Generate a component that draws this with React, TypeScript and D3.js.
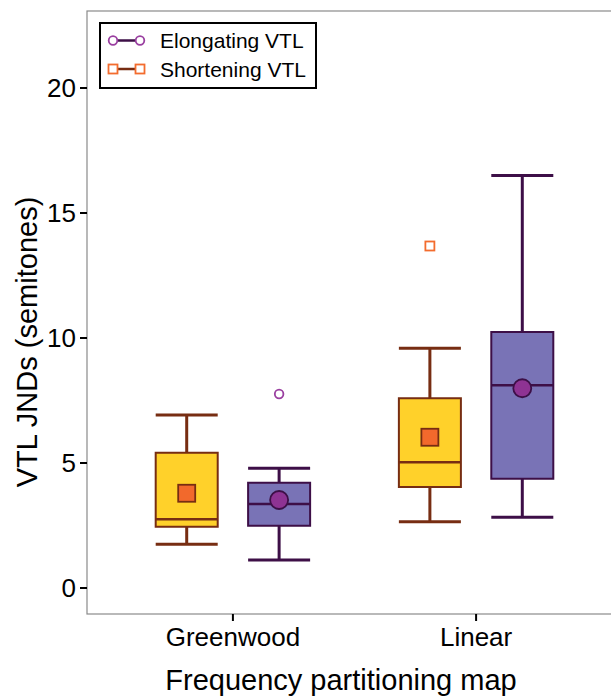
import * as d3 from 'd3';
import { useEffect, useRef } from 'react';

// categories and series
const groups = ['Greenwood', 'Linear'];
const conditions = ['Shortening VTL', 'Elongating VTL'];

// box stats per condition, in group order: [whiskerLow, q1, median, q3, whiskerHigh]
const shorteningBoxes = [
  [1.75, 2.45, 2.75, 5.41, 6.92],
  [2.65, 4.04, 5.03, 7.59, 9.59],
];
const elongatingBoxes = [
  [1.12, 2.49, 3.36, 4.21, 4.79],
  [2.83, 4.37, 8.11, 10.24, 16.5],
];
const shorteningMeans = [3.79, 6.03];
const elongatingMeans = [3.52, 7.99];
// outliers: [groupIndex, value]
const shorteningOutliers = [[1, 13.68]];
const elongatingOutliers = [[0, 7.76]];

const yTicks = [0, 5, 10, 15, 20];

const App = () => {
  const svgRef = useRef(null);

  useEffect(() => {
    const width = 611;
    const height = 696;
    const left = 87;
    const top = 11;
    const bottom = 614;
    const font = '"Liberation Sans", Arial, Helvetica, sans-serif';

    const svg = d3.select(svgRef.current).attr('width', width).attr('height', height);
    svg.selectAll('*').remove();

    const x = d3.scaleLinear().domain([0.4, 2.6]).range([left, 622]);
    const y = d3.scaleLinear().domain([-1.04, 23.08]).range([bottom, top]);

    // panel
    svg.append('rect')
      .attr('x', left).attr('y', top)
      .attr('width', 622 - left).attr('height', bottom - top)
      .attr('fill', 'white').attr('stroke', '#8a8a8a').attr('stroke-width', 1.2);

    // y axis
    const yAxis = svg.append('g').attr('font-family', font);
    yTicks.forEach((t) => {
      yAxis.append('line').attr('x1', left - 7).attr('x2', left)
        .attr('y1', y(t)).attr('y2', y(t)).attr('stroke', 'black').attr('stroke-width', 2);
      yAxis.append('text').attr('x', left - 11).attr('y', y(t)).attr('dy', '0.36em')
        .attr('text-anchor', 'end').attr('font-size', 26).text(t);
    });

    // x axis
    groups.forEach((g, i) => {
      svg.append('line').attr('x1', x(i + 1)).attr('x2', x(i + 1))
        .attr('y1', bottom).attr('y2', bottom + 7).attr('stroke', 'black').attr('stroke-width', 2);
      svg.append('text').attr('x', x(i + 1)).attr('y', 646).attr('text-anchor', 'middle')
        .attr('font-family', font).attr('font-size', 26).text(g);
    });

    svg.append('text').attr('x', 341).attr('y', 690).attr('text-anchor', 'middle')
      .attr('font-family', font).attr('font-size', 29).text('Frequency partitioning map');
    svg.append('text').attr('transform', 'translate(37, 342) rotate(-90)')
      .attr('text-anchor', 'middle').attr('font-family', font).attr('font-size', 29)
      .text('VTL JNDs (semitones)');

    const dodge = 0.19;
    const boxW = x(0.255) - x(0);

    const series = [
      { boxes: shorteningBoxes, means: shorteningMeans, outliers: shorteningOutliers, off: -dodge,
        fill: '#FFD12A', stroke: '#772D12', mean: '#F2692C', out: '#F36C2E', shape: 'square' },
      { boxes: elongatingBoxes, means: elongatingMeans, outliers: elongatingOutliers, off: dodge,
        fill: '#7973B6', stroke: '#3D0F47', mean: '#8E3393', out: '#9A3FA0', shape: 'circle' },
    ];

    series.forEach((s) => {
      s.boxes.forEach((b, i) => {
        const cx = x(i + 1 + s.off);
        const g = svg.append('g');
        // whiskers
        g.append('line').attr('x1', cx).attr('x2', cx).attr('y1', y(b[0])).attr('y2', y(b[1]))
          .attr('stroke', s.stroke).attr('stroke-width', 3);
        g.append('line').attr('x1', cx).attr('x2', cx).attr('y1', y(b[3])).attr('y2', y(b[4]))
          .attr('stroke', s.stroke).attr('stroke-width', 3);
        [b[0], b[4]].forEach((v) => {
          g.append('line').attr('x1', cx - boxW / 2).attr('x2', cx + boxW / 2)
            .attr('y1', y(v)).attr('y2', y(v)).attr('stroke', s.stroke).attr('stroke-width', 3);
        });
        // box
        g.append('rect').attr('x', cx - boxW / 2).attr('y', y(b[3]))
          .attr('width', boxW).attr('height', y(b[1]) - y(b[3]))
          .attr('fill', s.fill).attr('stroke', s.stroke).attr('stroke-width', 2);
        g.append('line').attr('x1', cx - boxW / 2).attr('x2', cx + boxW / 2)
          .attr('y1', y(b[2])).attr('y2', y(b[2])).attr('stroke', s.stroke).attr('stroke-width', 2.5);
        // mean
        const m = y(s.means[i]);
        if (s.shape === 'square') {
          g.append('rect').attr('x', cx - 8.5).attr('y', m - 8.5).attr('width', 17).attr('height', 17)
            .attr('fill', s.mean).attr('stroke', s.stroke).attr('stroke-width', 1.8);
        } else {
          g.append('circle').attr('cx', cx).attr('cy', m).attr('r', 9)
            .attr('fill', s.mean).attr('stroke', s.stroke).attr('stroke-width', 1.8);
        }
      });
      s.outliers.forEach(([gi, v]) => {
        const cx = x(gi + 1 + s.off);
        if (s.shape === 'square') {
          svg.append('rect').attr('x', cx - 4.5).attr('y', y(v) - 4.5).attr('width', 9).attr('height', 9)
            .attr('fill', 'none').attr('stroke', s.out).attr('stroke-width', 1.8);
        } else {
          svg.append('circle').attr('cx', cx).attr('cy', y(v)).attr('r', 4.3)
            .attr('fill', 'none').attr('stroke', s.out).attr('stroke-width', 1.8);
        }
      });
    });

    // legend
    const lg = svg.append('g').attr('font-family', font);
    lg.append('rect').attr('x', 100).attr('y', 23).attr('width', 216).attr('height', 65)
      .attr('fill', 'white').attr('stroke', 'black').attr('stroke-width', 2);
    const legendItems = [series[1], series[0]];
    const legendLabels = [conditions[1], conditions[0]];
    legendItems.forEach((s, i) => {
      const ly = 40.5 + i * 28.5;
      lg.append('line').attr('x1', 113).attr('x2', 140).attr('y1', ly).attr('y2', ly)
        .attr('stroke', s.stroke).attr('stroke-width', 2.5);
      [113, 140].forEach((px) => {
        if (s.shape === 'square') {
          lg.append('rect').attr('x', px - 4.5).attr('y', ly - 4.5).attr('width', 9).attr('height', 9)
            .attr('fill', 'white').attr('stroke', s.out).attr('stroke-width', 1.8);
        } else {
          lg.append('circle').attr('cx', px).attr('cy', ly).attr('r', 4.3)
            .attr('fill', 'white').attr('stroke', s.out).attr('stroke-width', 1.8);
        }
      });
      lg.append('text').attr('x', 160).attr('y', ly).attr('dy', '0.36em')
        .attr('font-size', 21).text(legendLabels[i]);
    });

    return () => {
      svg.selectAll('*').remove();
    };
  }, []);

  return <svg ref={svgRef} style={{ position: 'absolute', left: 0, top: 0 }} />;
};

export default App;
